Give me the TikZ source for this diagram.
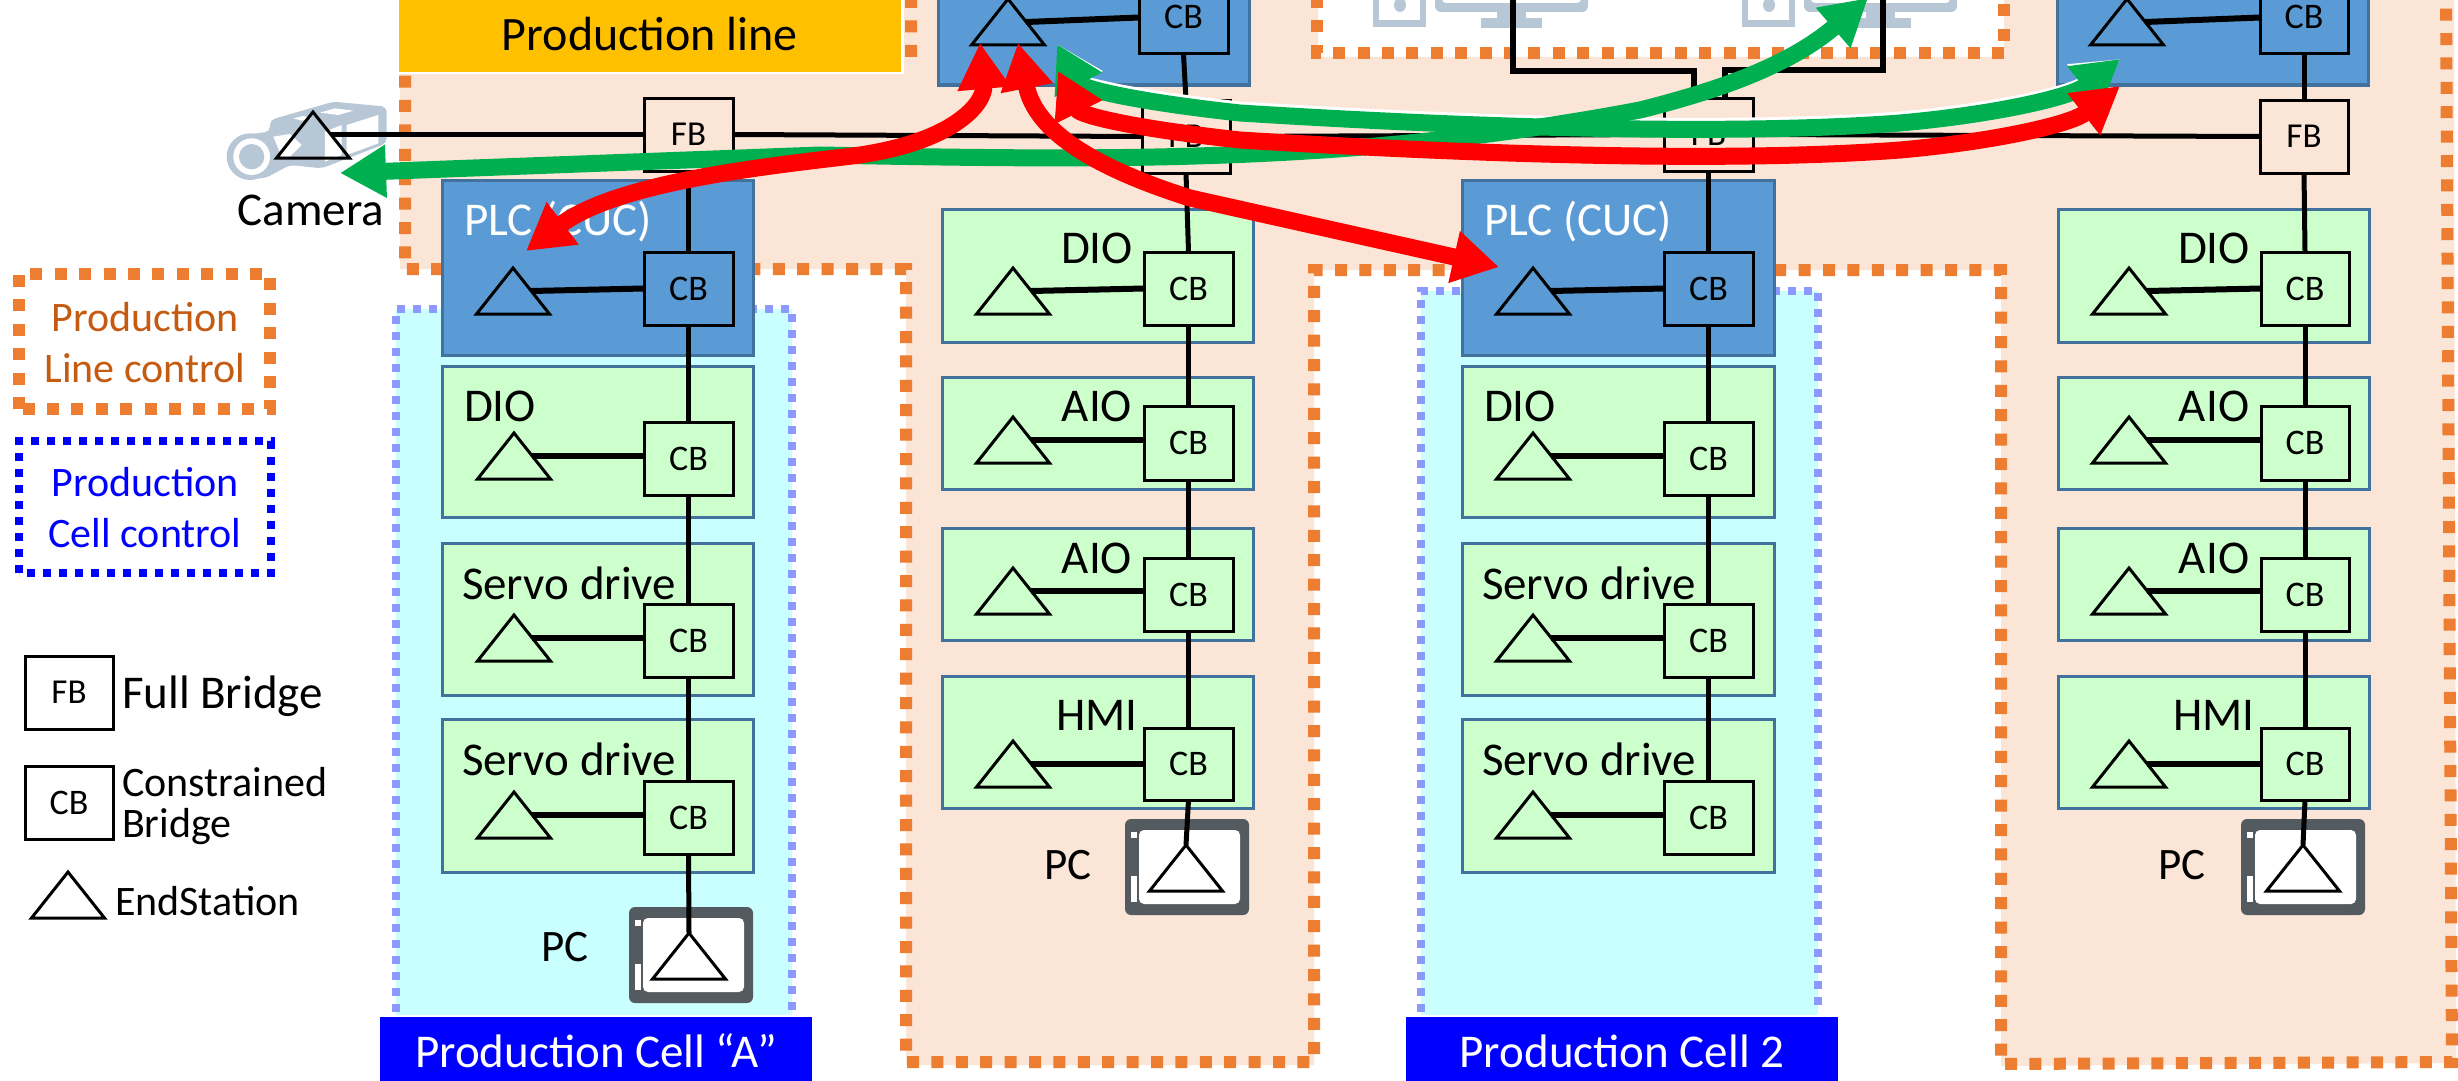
\documentclass[tikz,border=0pt]{standalone}
\usepackage{fontspec}
\setmainfont{Carlito}
\usetikzlibrary{arrows.meta,shapes.geometric}
\definecolor{salmon}{HTML}{FBE5D6}
\definecolor{dashorange}{HTML}{ED7D31}
\definecolor{barorange}{HTML}{FFC000}
\definecolor{txtorange}{HTML}{C55A11}
\definecolor{cellcyan}{HTML}{C9FFFF}
\definecolor{lilac}{HTML}{8C99FF}
\definecolor{plcblue}{HTML}{5B9BD5}
\definecolor{edgeblue}{HTML}{41719C}
\definecolor{iogreen}{HTML}{CCFFCC}
\definecolor{pcdark}{HTML}{535A60}
\definecolor{iconblue}{HTML}{B8C7D6}
\definecolor{arrgreen}{HTML}{00B050}
\newcommand{\fs}[1]{\fontsize{#1}{#1}\selectfont}
\newcommand{\mybox}[7]{\node[#1,minimum width={((#5)-(#3))*1pt},minimum height={((#6)-(#4))*1pt}] (#2) at ({((#3)+(#5))/2},{((#4)+(#6))/2}) {#7};}
\newcommand{\mytri}[3]{\node[trinode,anchor=lower side] (#1) at (#2,#3) {};}
\newcommand{\mypc}[3]{% name, left x, top y
  \mybox{pcout}{#1o}{#2}{#3}{#2+124}{#3+96}{}
  \mybox{pcin}{#1i}{#2+14}{#3+11}{#2+115}{#3+85}{}
  \mybox{pcnotch}{#1a}{#2+6}{#3+13}{#2+12}{#3+19}{}
  \mybox{pcnotch}{#1b}{#2+6}{#3+57}{#2+12}{#3+83}{}
}
\newcommand{\mymon}[1]{% x offset of a monitor icon
  \begin{scope}[xshift=#1pt]
    \fill[iconblue] (1373,-2) rectangle (1426,27);
    \fill[white] (1379,-2) rectangle (1420,20);
    \fill[iconblue] (1400,5) ellipse (6 and 7);
    \fill[iconblue,rounded corners=6pt] (1435,-12) rectangle (1588,12);
    \fill[white,rounded corners=4pt] (1442,-12) rectangle (1581,3);
    \fill[iconblue] (1497,12) rectangle (1526,18);
    \fill[iconblue] (1481,18) rectangle (1542,28);
  \end{scope}
}
\tikzset{
  x=1pt,y=-1pt,
  lbl/.style={inner sep=0pt,outer sep=0pt,text height=30pt,text depth=0pt,font=\fs{47}},
  lblsm/.style={inner sep=0pt,outer sep=0pt,text height=27pt,text depth=0pt,font=\fs{42}},
  boxbase/.style={inner sep=0pt,outer sep=0pt,line width=3pt},
  gbox/.style={boxbase,draw=edgeblue,fill=iogreen},
  bbox/.style={boxbase,draw=edgeblue,fill=plcblue},
  fbn/.style={boxbase,draw=black,font=\fs{35},text height=22pt,text depth=0pt},
  cbn/.style={boxbase,draw=black,font=\fs{36},text height=23pt,text depth=0pt},
  pcout/.style={inner sep=0pt,outer sep=0pt,fill=pcdark,rounded corners=6pt},
  pcin/.style={inner sep=0pt,outer sep=0pt,fill=white,rounded corners=5pt},
  pcnotch/.style={inner sep=0pt,outer sep=0pt,fill=white},
  flat/.style={inner sep=0pt,outer sep=0pt,rectangle},
  trinode/.style={isosceles triangle,isosceles triangle stretches,shape border rotate=90,
    draw=black,line width=3pt,inner sep=0pt,outer sep=0pt,minimum width=73pt,minimum height=46pt},
  wire/.style={line width=5pt,black},
  odash/.style={draw=dashorange,line width=12pt,dash pattern=on 12pt off 12.4pt},
  ldash/.style={draw=lilac,line width=7.5pt,dash pattern=on 8pt off 8pt},
  bdash/.style={draw=blue,line width=8pt,dash pattern=on 8pt off 8pt},
  redarr/.style={draw=red,line width=17pt,arrows={Triangle[length=46pt,width=50pt,fill=red]-Triangle[length=46pt,width=50pt,fill=red]}},
  grnarr/.style={draw=arrgreen,line width=17pt,arrows={Triangle[length=46pt,width=50pt,fill=arrgreen]-Triangle[length=46pt,width=50pt,fill=arrgreen]}},
  whtarr/.style={draw=white,line width=17pt,arrows={Triangle[length=46pt,width=50pt,fill=white]-Triangle[length=46pt,width=50pt,fill=white]}},
}
\begin{document}
\begin{tikzpicture}
\path[use as bounding box] (0,0) rectangle (2458,1081);
\clip (0,0) rectangle (2458,1081);
\fill[white] (0,0) rectangle (2458,1081);
% salmon area
\fill[salmon] (400,74) -- (904,74) -- (904,0) -- (1318,0) -- (1318,57) -- (2004,57) -- (2004,0) -- (2454,0)
  -- (2456,1063) -- (2001,1066) -- (2001,270) -- (1314,270) -- (1314,1065) -- (906,1065) -- (906,269) -- (400,269) -- cycle;
\draw[odash] (911,-4) -- (911,60) -- (405,60) -- (405,269) -- (906,269) -- (906,1062) -- (1314,1062) -- (1314,270)
  -- (2001,270) -- (2001,1064) -- (2452,1062) -- (2446,-6);
\draw[odash] (1317,-4) -- (1317,53) -- (2004,53) -- (2004,-4);
% monitors
\mymon{0}
\mymon{369}
% cells
\fill[cellcyan] (396,309) rectangle (792,1015);
\draw[ldash] (396,1012) -- (396,309) -- (792,309) -- (792,1012);
\fill[cellcyan] (1421,291) rectangle (1818,1015);
\draw[ldash] (1421,1012) -- (1421,291) -- (1818,291) -- (1818,1012);
% headers
\fill[white] (396,0) rectangle (904,74);
\mybox{flat,fill=barorange}{barline}{399}{-2}{901}{72}{}
\node[lbl,font=\fs{48}] (tline) at (650,36) {Production line};
\mybox{flat,fill=blue}{barA}{380}{1017}{812}{1085}{}
\node[lbl,white] (tcellA) at (596,1052) {Production Cell “A”};
\mybox{flat,fill=blue}{barB}{1406}{1017}{1838}{1085}{}
\node[lbl,white] (tcellB) at (1622,1052) {Production Cell 2};
% PLC and I/O boxes
\mybox{bbox}{plcA}{442}{180}{753}{355}{}
\mybox{gbox}{aDIO}{442}{366}{753}{517}{}
\mybox{gbox}{aS1}{442}{543}{753}{695}{}
\mybox{gbox}{aS2}{442}{719}{753}{872}{}
\mybox{bbox}{plcB}{1462}{180}{1774}{355}{}
\mybox{gbox}{bDIO}{1462}{366}{1774}{517}{}
\mybox{gbox}{bS1}{1462}{543}{1774}{695}{}
\mybox{gbox}{bS2}{1462}{719}{1774}{872}{}
\mybox{bbox}{plcM}{938}{-20}{1249}{85}{}
\mybox{gbox}{mDIO}{942}{209}{1253}{342}{}
\mybox{gbox}{mA1}{942}{377}{1253}{489}{}
\mybox{gbox}{mA2}{942}{528}{1253}{640}{}
\mybox{gbox}{mH}{942}{676}{1253}{808}{}
\mybox{bbox}{plcR}{2057}{-20}{2368}{85}{}
\mybox{gbox}{rDIO}{2058}{209}{2369}{342}{}
\mybox{gbox}{rA1}{2058}{377}{2369}{489}{}
\mybox{gbox}{rA2}{2058}{528}{2369}{640}{}
\mybox{gbox}{rH}{2058}{676}{2369}{808}{}
% PCs
\mypc{pcA}{629}{907}
\mypc{pcM}{1125}{819}
\mypc{pcR}{2241}{819}
% camera
\begin{scope}[shift={(210,90)},x=0.3333pt,y=-0.3333pt]
  \fill[iconblue,rounded corners=5pt] (180,90) -- (370,35) -- (530,50) -- (530,160) -- (335,235) -- (240,225) -- (165,265) -- (100,265) -- (100,135) -- (180,125) -- cycle;
  \fill[iconblue] (120,200) circle (70);
  \fill[white] (125,200) circle (55);
  \fill[iconblue] (125,200) circle (38);
  \fill[white] (190,140) -- (240,132) -- (275,165) -- (240,200) -- (215,200) -- cycle;
  \fill[white] (250,85) -- (280,78) -- (305,85) -- (275,92) -- cycle;
  \fill[white] (330,68) -- (375,55) -- (430,62) -- (385,75) -- cycle;
  \fill[white] (410,105) -- (505,75) -- (505,160) -- (410,195) -- cycle;
  \fill[white] (345,125) -- (395,105) -- (395,195) -- (345,215) -- cycle;
\end{scope}
% bridges
\mybox{fbn}{fbA}{644}{98}{733}{171}{FB}
\mybox{fbn}{fbM}{1142}{100}{1230}{173}{FB}
\mybox{fbn}{fbB}{1664}{98}{1753}{171}{FB}
\mybox{fbn}{fbR}{2260}{100}{2348}{173}{FB}
\mybox{cbn}{cA0}{644}{252}{733}{325}{CB}
\mybox{cbn}{cA1}{644}{422}{733}{495}{CB}
\mybox{cbn}{cA2}{644}{604}{733}{677}{CB}
\mybox{cbn}{cA3}{644}{781}{733}{854}{CB}
\mybox{cbn}{cB0}{1664}{252}{1753}{325}{CB}
\mybox{cbn}{cB1}{1664}{422}{1753}{495}{CB}
\mybox{cbn}{cB2}{1664}{604}{1753}{677}{CB}
\mybox{cbn}{cB3}{1664}{781}{1753}{854}{CB}
\mybox{cbn}{cM0}{1139}{-19}{1228}{54}{CB}
\mybox{cbn}{cM1}{1144}{252}{1233}{325}{CB}
\mybox{cbn}{cM2}{1144}{406}{1233}{480}{CB}
\mybox{cbn}{cM3}{1144}{558}{1233}{631}{CB}
\mybox{cbn}{cM4}{1144}{728}{1233}{800}{CB}
\mybox{cbn}{cR0}{2260}{-19}{2348}{54}{CB}
\mybox{cbn}{cR1}{2261}{252}{2349}{325}{CB}
\mybox{cbn}{cR2}{2261}{406}{2349}{480}{CB}
\mybox{cbn}{cR3}{2261}{558}{2349}{631}{CB}
\mybox{cbn}{cR4}{2261}{728}{2349}{800}{CB}
% end stations
\mytri{tCam}{313}{158}
\mytri{tA0}{513}{314}
\mytri{tA1}{514}{479}
\mytri{tA2}{514}{661}
\mytri{tA3}{514}{838}
\mytri{tAp}{689}{979}
\mytri{tB0}{1533}{314}
\mytri{tB1}{1533}{479}
\mytri{tB2}{1533}{661}
\mytri{tB3}{1533}{838}
\mytri{tM0}{1008}{45}
\mytri{tM1}{1013}{314}
\mytri{tM2}{1013}{463}
\mytri{tM3}{1013}{614}
\mytri{tM4}{1013}{787}
\mytri{tMp}{1186}{891}
\mytri{tR0}{2127}{45}
\mytri{tR1}{2129}{314}
\mytri{tR2}{2129}{463}
\mytri{tR3}{2129}{614}
\mytri{tR4}{2129}{787}
\mytri{tRp}{2303}{891}
% wires
\draw[wire] (tCam.right side |- fbA.west) -- (fbA.west);
\draw[wire] (fbA.east) -- (fbM.west);
\draw[wire] (fbM.east) -- (fbB.west);
\draw[wire] (fbB.east) -- (fbR.west);
\foreach \a/\b in {fbA/cA0,cA0/cA1,cA1/cA2,cA2/cA3,fbB/cB0,cB0/cB1,cB1/cB2,cB2/cB3,cM0/fbM,fbM/cM1,cM1/cM2,cM2/cM3,cM3/cM4,cR0/fbR,fbR/cR1,cR1/cR2,cR2/cR3,cR3/cR4}
  \draw[wire] (\a.south) -- (\b.north);
\draw[wire] (cA3.south) -- (tAp.apex);
\draw[wire] (cM4.south) -- (tMp.apex);
\draw[wire] (cR4.south) -- (tRp.apex);
\foreach \t/\c in {tA0/cA0,tB0/cB0,tM0/cM0,tR0/cR0,tM1/cM1,tR1/cR1}
  \draw[wire,line width=6pt] (\t.right side) -- (\c.west);
\foreach \t/\c in {tA1/cA1,tA2/cA2,tA3/cA3,tB1/cB1,tB2/cB2,tB3/cB3,tM2/cM2,tM3/cM3,tM4/cM4,tR2/cR2,tR3/cR3,tR4/cR4}
  \draw[wire,line width=6pt] (\t.right side) -- (\t.right side -| \c.west);
\coordinate (monL) at (1513,-4);
\coordinate (monR) at (1883,-4);
\draw[wire,line width=6pt] (monL) |- (1694,71) -- (1694,98);
\draw[wire,line width=6pt] (monR) |- (1725,70) -- (1725,98);
% texts
\node[lbl,white,anchor=west] (tPlcA) at (464,220) {PLC (CUC)};
\node[lbl,white,anchor=west] (tPlcB) at (1484,220) {PLC (CUC)};
\node[lbl,anchor=west] (tdA) at (464,406) {DIO};
\node[lbl,anchor=west] (tsA1) at (462,584) {Servo drive};
\node[lbl,anchor=west] (tsA2) at (462,760) {Servo drive};
\node[lbl,anchor=west] (tdB) at (1484,406) {DIO};
\node[lbl,anchor=west] (tsB1) at (1482,584) {Servo drive};
\node[lbl,anchor=west] (tsB2) at (1482,760) {Servo drive};
\node[lbl] (tm1) at (1097,248) {DIO};
\node[lbl] (tm2) at (1097,406) {AIO};
\node[lbl] (tm3) at (1097,558) {AIO};
\node[lbl] (tm4) at (1097,715) {HMI};
\node[lbl] (tr1) at (2214,248) {DIO};
\node[lbl] (tr2) at (2214,406) {AIO};
\node[lbl] (tr3) at (2214,558) {AIO};
\node[lbl] (tr4) at (2214,715) {HMI};
\node[lbl,font=\fs{45}] (tpcA) at (565,946) {PC};
\node[lbl,font=\fs{45}] (tpcM) at (1068,864) {PC};
\node[lbl,font=\fs{45}] (tpcR) at (2182,864) {PC};
\node[lbl] (tcam) at (311,210) {Camera};
% legend
\draw[odash] (19,409) -- (19,274) -- (270,274) -- (270,409) -- cycle;
\draw[bdash] (19,573) -- (19,441) -- (271,441) -- (271,573) -- cycle;
\node[lblsm,txtorange] (lg1) at (145,318) {Production};
\node[lblsm,txtorange] (lg2) at (145,369) {Line control};
\node[lblsm,blue] (lg3) at (145,483) {Production};
\node[lblsm,blue] (lg4) at (145,534) {Cell control};
\mybox{fbn}{lgFB}{25}{656}{113}{729}{FB}
\mybox{cbn}{lgCB}{25}{766}{113}{839}{CB}
\mytri{lgT}{68}{918}
\node[lbl,anchor=west] (lg5) at (122,693) {Full Bridge};
\node[lblsm,anchor=west] (lg6) at (122,783) {Constrained};
\node[lblsm,anchor=west] (lg7) at (122,824) {Bridge};
\node[lblsm,anchor=west] (lg8) at (115,902) {EndStation};
% arrows
\coordinate (pA) at (526,251);
\coordinate (pM1) at (980,43);
\coordinate (pM2) at (1018,43);
\coordinate (pM3) at (1058,71);
\coordinate (pM4) at (1057,44);
\coordinate (pB) at (1499,267);
\coordinate (pR1) at (2120,86);
\coordinate (pR2) at (2120,59);
\coordinate (pC) at (340,173);
\coordinate (pT) at (1868,-2);
\draw[whtarr,yshift=3pt] (pM4) .. controls (1080,88) and (1130,101) .. (1240,113) .. controls (1400,123) and (1700,138) .. (1900,123) .. controls (1990,115) and (2070,98) .. (pR2);
\draw[grnarr] (pM4) .. controls (1080,88) and (1130,101) .. (1240,113) .. controls (1400,123) and (1700,138) .. (1900,123) .. controls (1990,115) and (2070,98) .. (pR2);
\draw[grnarr] (pC) -- (820,155) .. controls (1100,160) and (1350,165) .. (1640,110) .. controls (1720,90) and (1790,65) .. (pT);
\draw[redarr] (pA) .. controls (620,180) and (780,165) .. (860,155) .. controls (960,140) and (985,100) .. (pM1);
\draw[redarr] (pM2) .. controls (1033,120) and (1070,160) .. (1190,198) -- (pB);
\draw[redarr] (pM3) .. controls (1080,115) and (1130,128) .. (1240,140) .. controls (1400,150) and (1700,165) .. (1900,150) .. controls (1990,142) and (2070,125) .. (pR1);
\end{tikzpicture}
\end{document}
